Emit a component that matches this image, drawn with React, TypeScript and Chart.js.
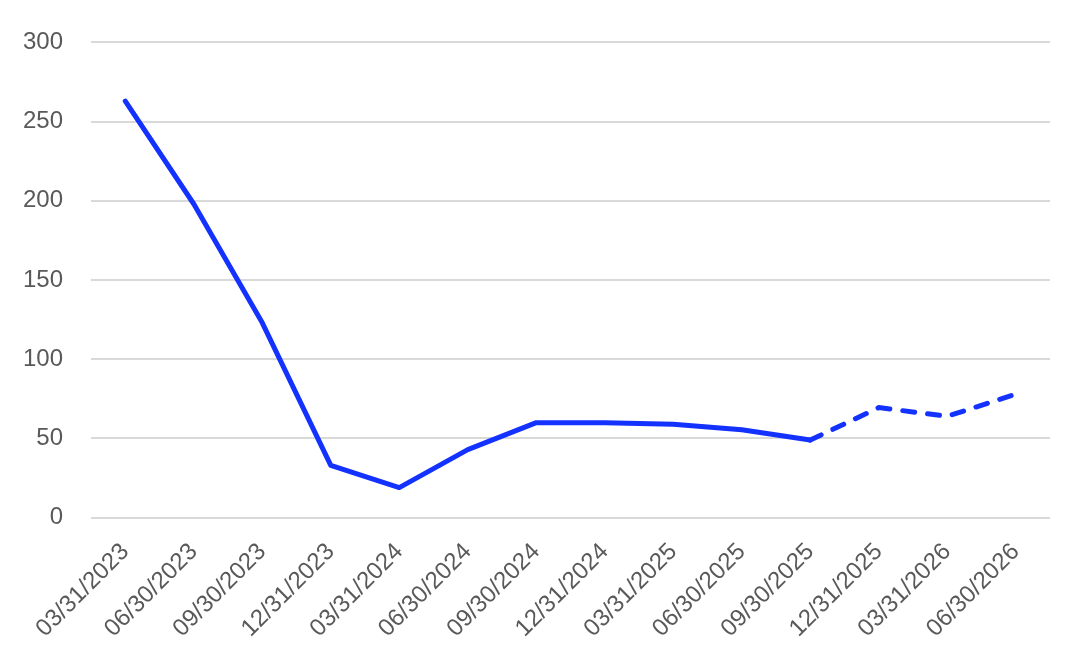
import React, { useEffect, useRef } from "react";
import { Chart, registerables } from "chart.js";

Chart.register(...registerables);

const categories = [
  "03/31/2023", "06/30/2023", "09/30/2023", "12/31/2023",
  "03/31/2024", "06/30/2024", "09/30/2024", "12/31/2024",
  "03/31/2025", "06/30/2025", "09/30/2025", "12/31/2025",
  "03/31/2026", "06/30/2026",
];
const values = [263, 198, 123, 33, 19, 43, 60, 60, 59, 55.5, 49, 69.5, 64, 78];
const forecastStartIndex = 10;
const yTicks = [0, 50, 100, 150, 200, 250, 300];

export default function App() {
  const ref = useRef<HTMLCanvasElement | null>(null);
  useEffect(() => {
    if (!ref.current) return;
    const chart = new Chart(ref.current, {
      type: "line",
      data: {
        labels: categories,
        datasets: [
          {
            data: values,
            borderColor: "#1432FF",
            borderWidth: 5,
            borderCapStyle: "round",
            borderJoinStyle: "round",
            pointRadius: 0,
            tension: 0,
            segment: {
              borderDash: (ctx: any) => (ctx.p0DataIndex >= forecastStartIndex ? [12, 13] : undefined),
            },
          },
        ],
      },
      options: {
        responsive: false,
        animation: false,
        layout: { padding: { left: -5, right: 38, top: 35, bottom: 11 } },
        plugins: { legend: { display: false }, tooltip: { enabled: false } },
        scales: {
          x: {
            offset: true,
            grid: { display: false },
            border: { display: false },
            ticks: {
              minRotation: 45,
              maxRotation: 45,
              autoSkip: false,
              color: "#595959",
              font: { family: "'Liberation Sans', Arial, sans-serif", size: 24 },
              padding: 12,
            },
          },
          y: {
            min: 0,
            max: 300,
            afterBuildTicks: (axis: any) => {
              axis.ticks = yTicks.map((v) => ({ value: v }));
            },
            grid: { color: "#D9D9D9", lineWidth: 2, drawTicks: false },
            border: { display: false },
            ticks: {
              color: "#595959",
              font: { family: "'Liberation Sans', Arial, sans-serif", size: 24 },
              padding: 28,
            },
          },
        },
      },
    });
    return () => chart.destroy();
  }, []);
  return (
    <div style={{ position: "absolute", left: 0, top: 0, width: 1088, height: 666, background: "#fff" }}>
      <canvas ref={ref} width={1088} height={666} />
    </div>
  );
}
